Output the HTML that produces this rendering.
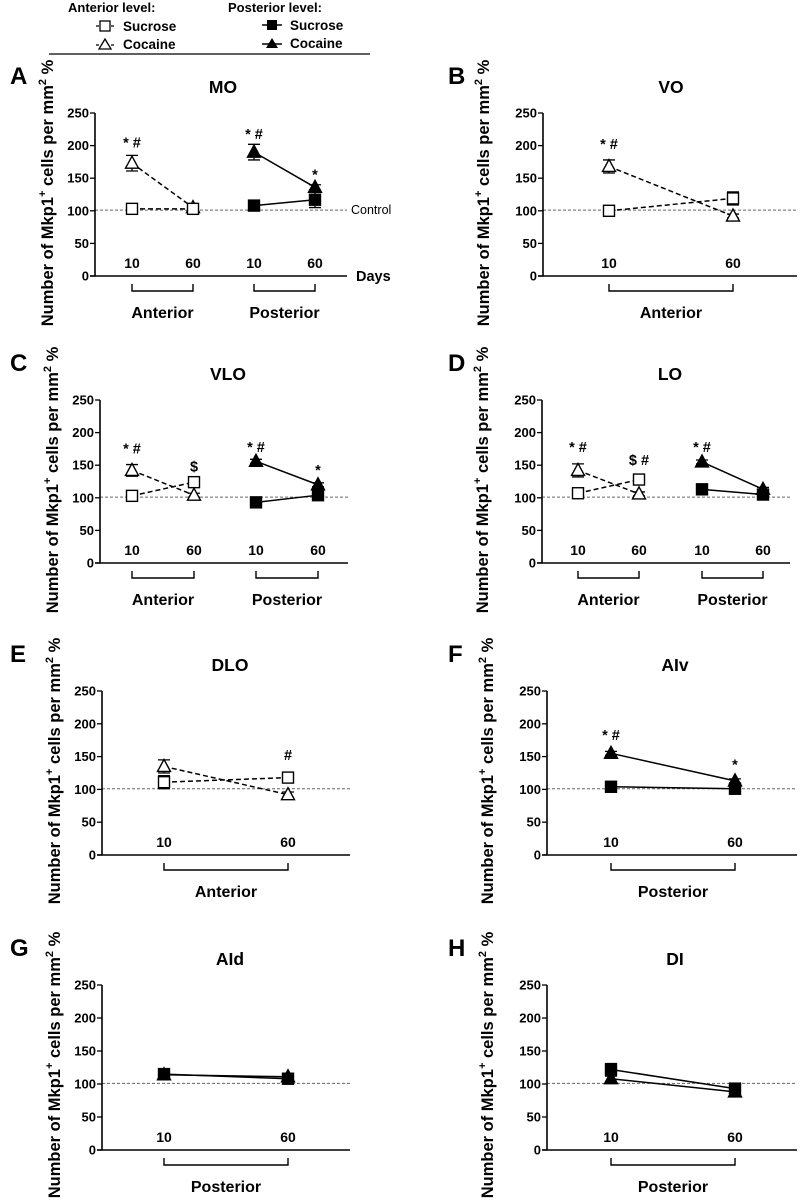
<!DOCTYPE html>
<html><head><meta charset="utf-8"><style>
body{margin:0;background:#fff;}
svg{display:block;font-family:"Liberation Sans",Arial,sans-serif;font-weight:bold;}
</style></head><body>
<svg id="fig" width="800" height="1200" viewBox="0 0 800 1200">
<g>
<text x="68" y="12" font-size="13">Anterior level:</text>
<text x="228" y="12" font-size="13">Posterior level:</text>
<g><line x1="96" y1="26" x2="114" y2="26" stroke="#000" stroke-width="1.3" stroke-dasharray="3,2"/><rect x="100" y="21" width="10" height="10" fill="#fff" stroke="#000" stroke-width="1.3"/><text x="123" y="31" font-size="13.5">Sucrose</text></g>
<g><line x1="96" y1="45" x2="114" y2="45" stroke="#000" stroke-width="1.3" stroke-dasharray="3,2"/><polygon points="105,39 111,49 99,49" fill="#fff" stroke="#000" stroke-width="1.3"/><text x="123" y="49" font-size="13.5">Cocaine</text></g>
<g><line x1="262" y1="25" x2="282" y2="25" stroke="#000" stroke-width="1.5"/><rect x="267" y="20" width="10" height="10" fill="#000"/><text x="290" y="30" font-size="13.5">Sucrose</text></g>
<g><line x1="262" y1="44" x2="282" y2="44" stroke="#000" stroke-width="1.5"/><polygon points="272,38 278,48 266,48" fill="#000"/><text x="290" y="48" font-size="13.5">Cocaine</text></g>
<line x1="49" y1="54" x2="370" y2="54" stroke="#000" stroke-width="1.3"/>
</g>
</svg>
<script>
// ---- data (values in % of control) ----
const panelIds = ["A","B","C","D","E","F","G","H"];
const panelTitles = ["MO","VO","VLO","LO","DLO","AIv","AId","DI"];
const yTicks = [0,50,100,150,200,250];
const dayLabels = ["10","60"];
const antSucrose = {A:[103,103],B:[100,119],C:[103,124],D:[107,128],E:[111,118]};
const antSucroseErr = {A:[3,4],B:[3,10],C:[3,8],D:[3,6],E:[10,7]};
const antCocaine = {A:[173,105],B:[168,92],C:[142,104],D:[142,106],E:[135,92]};
const antCocaineErr = {A:[12,3],B:[10,3],C:[9,3],D:[10,3],E:[10,4]};
const postSucrose = {A:[108,117],C:[93,104],D:[113,105],F:[104,101],G:[115,108],H:[122,93]};
const postSucroseErr = {A:[3,12],C:[5,3],D:[3,3],F:[4,3],G:[3,3],H:[9,5]};
const postCocaine = {A:[190,136],C:[156,120],D:[155,113],F:[155,113],G:[114,111],H:[108,88]};
const postCocaineErr = {A:[12,4],C:[3,3],D:[3,3],F:[3,3],G:[3,3],H:[4,6]};
const controlValue = 101;
const annotations = {
 A:[["ant",0,197,"* #"],["post",0,210,"* #"],["post",1,148,"*"]],
 B:[["ant",0,195,"* #"]],
 C:[["ant",0,168,"* #"],["ant",1,140,"$"],["post",0,170,"* #"],["post",1,135,"*"]],
 D:[["ant",0,170,"* #"],["ant",1,150,"$ #"],["post",0,170,"* #"]],
 E:[["ant",1,145,"#"]],
 F:[["post",0,175,"* #"],["post",1,130,"*"]]
};
// ---- layout ----
const rowY = [[113,276],[400,563],[691,855],[985,1150]];
const layout = {
 A:{ax:95,end:347,groups:{ant:[132,193],post:[254,315]}},
 B:{ax:543,end:797,groups:{ant:[609,733]}},
 C:{ax:100,end:348,groups:{ant:[132,194],post:[256,318]}},
 D:{ax:542,end:790,groups:{ant:[578,639],post:[702,763]}},
 E:{ax:102,end:350,groups:{ant:[164,288]}},
 F:{ax:547,end:797,groups:{post:[611,735]}},
 G:{ax:102,end:350,groups:{post:[164,288]}},
 H:{ax:547,end:797,groups:{post:[611,735]}}
};
const NS="http://www.w3.org/2000/svg";
const svg=document.getElementById('fig');
function mk(tag,attrs,parent,txt){const e=document.createElementNS(NS,tag);for(const k in attrs)e.setAttribute(k,attrs[k]);if(txt!==undefined)e.textContent=txt;parent.appendChild(e);return e;}
panelIds.forEach((id,i)=>{
 const L=layout[id];const [y250,y0]=rowY[Math.floor(i/2)];
 const yS=v=>y0-(v/250)*(y0-y250);
 const g=mk('g',{},svg);
 
 
 const left=(i%2===0);
 const lt=mk('text',{x:left?10:448,y:y250-29,'font-size':24},g,id);
 
 
 const tt=mk('text',{x:L.ax+128,y:y250-20,'font-size':17.5,'text-anchor':'middle'},g,panelTitles[i]);
 
 
 const yt=mk('text',{transform:`translate(${L.ax-(left?42:54)},${y250+80}) rotate(-90)`,'font-size':16.5,'text-anchor':'middle'},g);
 
 
 yt.innerHTML='Number of Mkp1<tspan dy="-7" font-size="11">+</tspan><tspan dy="7"> cells per mm</tspan><tspan dy="-7" font-size="11">2</tspan><tspan dy="7"> %</tspan>';
 const cl=mk('line',{x1:L.ax,x2:L.end,y1:yS(controlValue),y2:yS(controlValue),stroke:'#666','stroke-width':1,'stroke-dasharray':'3,2'},g);
 
 
 if(id==='A'){const c=mk('text',{x:L.end+4,y:yS(controlValue)+4,'font-size':12.5,'font-weight':'normal'},g,'Control');}
 const ya=mk('line',{x1:L.ax,x2:L.ax,y1:y250,y2:y0,stroke:'#000','stroke-width':1.6},g);
 
 
 const xa=mk('line',{x1:L.ax-5,x2:L.end,y1:y0,y2:y0,stroke:'#000','stroke-width':1.6},g);
 
 
 yTicks.forEach(t=>{
  mk('line',{x1:L.ax-5,x2:L.ax,y1:yS(t),y2:yS(t),stroke:'#000','stroke-width':1.3},g);
  const tl=mk('text',{x:L.ax-6,y:yS(t)+4.5,'font-size':13,'text-anchor':'end'},g,String(t));
  
  
 });
 if(id==='A'){const d=mk('text',{x:L.end+9,y:y0+5,'font-size':14.5},g,'Days');}
 const series=[];
 for(const grp in L.groups){
  const xs=L.groups[grp];
  dayLabels.forEach((d,k)=>{const dl=mk('text',{x:xs[k],y:y0-8,'font-size':14,'text-anchor':'middle'},g,d);});
  const br=mk('path',{d:`M${xs[0]},${y0+8}V${y0+15}H${xs[1]}V${y0+8}`,fill:'none',stroke:'#000','stroke-width':1.4},g);
  
  
  const gl=mk('text',{x:(xs[0]+xs[1])/2,y:y0+42,'font-size':16,'text-anchor':'middle'},g,grp==='ant'?'Anterior':'Posterior');
  
  
  if(grp==='ant'){
   if(antCocaine[id])series.push({xs,v:antCocaine[id],e:antCocaineErr[id],tri:true,fill:false,name:'anterior-cocaine'});
   if(antSucrose[id])series.push({xs,v:antSucrose[id],e:antSucroseErr[id],tri:false,fill:false,name:'anterior-sucrose'});
  } else {
   if(postCocaine[id])series.push({xs,v:postCocaine[id],e:postCocaineErr[id],tri:true,fill:true,name:'posterior-cocaine'});
   if(postSucrose[id])series.push({xs,v:postSucrose[id],e:postSucroseErr[id],tri:false,fill:true,name:'posterior-sucrose'});
  }
 }
 series.forEach(s=>{
  const sg=mk('g',{},g);
  
  
  const ln=mk('line',{x1:s.xs[0],y1:yS(s.v[0]),x2:s.xs[1],y2:yS(s.v[1]),stroke:'#000','stroke-width':1.5},sg);
  if(!s.fill)ln.setAttribute('stroke-dasharray','5,3');
  s.v.forEach((v,k)=>{
   const x=s.xs[k],y=yS(v),ey=yS(v+s.e[k]),ey2=yS(v-s.e[k]);
   mk('path',{d:`M${x},${ey2}V${ey}M${x-6},${ey}H${x+6}M${x-6},${ey2}H${x+6}`,stroke:'#000','stroke-width':1.3,fill:'none'},sg);
   let m;
   if(s.tri) m=mk('polygon',{points:`${x},${y-7} ${x+6.5},${y+5} ${x-6.5},${y+5}`,fill:s.fill?'#000':'#fff',stroke:'#000','stroke-width':1.4},sg);
   else m=mk('rect',{x:x-5.5,y:y-5.5,width:11,height:11,fill:s.fill?'#000':'#fff',stroke:'#000','stroke-width':1.4},sg);
   
   
  });
 });
 (annotations[id]||[]).forEach(a=>{
  const x=L.groups[a[0]][a[1]];
  const at=mk('text',{x:x,y:yS(a[2]),'font-size':14.5,'text-anchor':'middle'},g,a[3]);
  
  
 });
});
</script>
</body></html>
